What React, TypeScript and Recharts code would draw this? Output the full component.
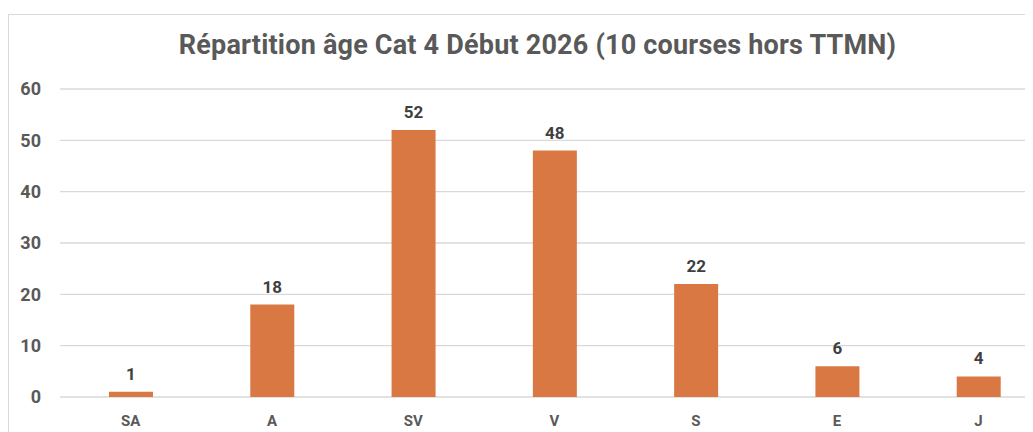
import { BarChart, Bar, XAxis, YAxis, CartesianGrid, LabelList } from "recharts"

const categories = ["SA", "A", "SV", "V", "S", "E", "J"]
const counts = [1, 18, 52, 48, 22, 6, 4]
const yTicks = [0, 10, 20, 30, 40, 50, 60]
const title = "Répartition âge Cat 4 Début 2026 (10 courses hors TTMN)"

const data = categories.map((cat, i) => ({ cat, count: counts[i] }))

const FONT = "Roboto, 'Noto Sans', sans-serif"
const AXIS_GREY = "#595959"

export default function App() {
  return (
    <div style={{ width: 1025, height: 418, marginTop: 6, overflow: "hidden", position: "relative" }}>
      <div
        style={{
          position: "absolute",
          left: 0,
          top: 0,
          width: 1058,
          height: 418,
          borderLeft: "1px solid #d9d9d9",
          borderTop: "1px solid #d9d9d9",
          background: "#fff",
        }}
      >
        <div
          style={{
            position: "absolute",
            left: 0,
            top: 13,
            width: 1057,
            textAlign: "center",
            fontFamily: FONT,
            fontWeight: 700,
            fontSize: 27,
            letterSpacing: 0.2,
            lineHeight: "34px",
            color: AXIS_GREY,
          }}
        >
          {title}
        </div>
        <BarChart
          width={1057}
          height={417}
          data={data}
          margin={{ top: 74, right: 17, bottom: 5, left: 0 }}
          barCategoryGap="0%"
        >
          <CartesianGrid vertical={false} stroke="#d9d9d9" strokeWidth={1.3} />
          <XAxis
            dataKey="cat"
            axisLine={false}
            tickLine={false}
            tickSize={0}
            tickMargin={18}
            height={30}
            tick={{ fill: AXIS_GREY, fontSize: 15, fontWeight: 700, fontFamily: FONT }}
          />
          <YAxis
            domain={[0, 60]}
            ticks={yTicks}
            width={51}
            axisLine={false}
            tickLine={false}
            tickSize={0}
            tickMargin={19}
            tick={{ fill: AXIS_GREY, fontSize: 18, fontWeight: 700, fontFamily: FONT }}
          />
          <Bar dataKey="count" fill="#D97842" barSize={44} isAnimationActive={false}>
            <LabelList
              dataKey="count"
              position="top"
              offset={12}
              style={{ fill: "#404040", fontSize: 17, fontWeight: 700, fontFamily: FONT }}
            />
          </Bar>
        </BarChart>
      </div>
    </div>
  )
}
